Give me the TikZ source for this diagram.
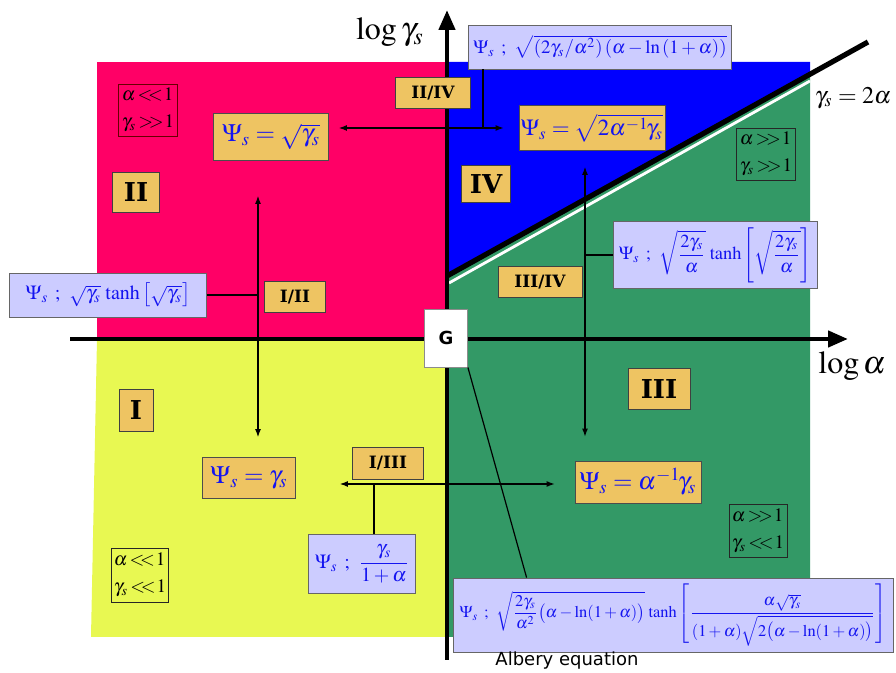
\documentclass[tikz,border=0pt]{standalone}
\usepackage{amsmath}
\usepackage{mathptmx}
\usepackage[no-math]{fontspec}
\newfontfamily\numfont{DejaVu Serif}
\newfontfamily\handfont{DejaVu Sans}
\usetikzlibrary{arrows.meta}
\definecolor{regred}{HTML}{FF0066}
\definecolor{regyellow}{HTML}{E8F852}
\definecolor{regblue}{HTML}{0000FF}
\definecolor{reggreen}{HTML}{339966}
\definecolor{boxorange}{HTML}{EEC462}
\definecolor{boxlav}{HTML}{CCCCFF}
\definecolor{formblue}{HTML}{1414F0}
\newcommand{\mll}{\mskip2mu{<\!\!<}\mskip1mu}
\newcommand{\mgg}{\mskip2mu{>\!\!>}\mskip1mu}
\begin{document}
\begin{tikzpicture}[x=0.5pt,y=-0.5pt,
  numbox/.style={draw=black!75,fill=boxorange,font=\numfont\bfseries,inner sep=1pt},
  formbox/.style={draw=black!70,fill=boxorange,text=formblue,inner sep=0.5pt,font=\fontsize{12.5}{14}\selectfont},
  lavbox/.style={draw=black!60,fill=boxlav,text=formblue,inner sep=0.5pt,font=\fontsize{10}{12}\selectfont},
  condbox/.style={draw=black!85,align=left,inner sep=1pt,font=\fontsize{9.5}{13.5}\selectfont},
  link/.style={line width=0.6pt},
  dbl/.style={link,{Latex[length=4pt,width=3pt]}-{Latex[length=4pt,width=3pt]}},
  axis/.style={line width=2.2pt,-{Triangle[length=10pt,width=8pt]}}]
  \useasboundingbox (0,0) rectangle (896,673);
  % regions
  \fill[regred] (97,62) rectangle (447,339);
  \fill[regyellow] (97,339) -- (447,339) -- (447,637) -- (91,637) -- cycle;
  \fill[regblue] (447,62) -- (810,62) -- (810,74) -- (447,277) -- cycle;
  \fill[reggreen] (447,277) -- (810,74) -- (810,637) -- (447,637) -- cycle;
  % boundary gamma_s = 2 alpha
  \draw[white,line width=1.4pt] (449,283) -- (810,81);
  \draw[line width=2.6pt] (447,276) -- (868,42);
  % axes
  \draw[axis] (70,339) -- (848,339);
  \draw[axis] (447,660) -- (447,10);
  \node (ylab) at (390,32) {\fontsize{16}{18}\selectfont$\log\gamma_s$};
  \node (xlab) at (852,366) {\fontsize{16}{18}\selectfont$\log\alpha$};
  \node (bnd) at (853,98) {\fontsize{12}{14}\selectfont$\gamma_s=2\alpha$};
  \node[draw=black!45,fill=white,minimum width=21.5pt,minimum height=29pt,font=\handfont\bfseries\fontsize{9}{10}\selectfont] (G) at (446,338) {G};
  % regimes
  \node[numbox,minimum width=23.5pt,minimum height=20pt,font=\numfont\bfseries\fontsize{13}{14}\selectfont] (II) at (136,192) {II};
  \node[numbox,minimum width=17pt,minimum height=21pt,font=\numfont\bfseries\fontsize{13}{14}\selectfont] (I) at (136,410) {I};
  \node[numbox,minimum width=24.5pt,minimum height=18.5pt,font=\numfont\bfseries\fontsize{13}{14}\selectfont] (IV) at (486,184) {IV};
  \node[numbox,minimum width=31pt,minimum height=20.5pt,font=\numfont\bfseries\fontsize{13}{14}\selectfont] (III) at (659,389) {III};
  \node[numbox,minimum width=37.5pt,minimum height=15.5pt,font=\numfont\bfseries\fontsize{8.5}{10}\selectfont] (IIIV) at (433,93) {II/IV};
  \node[numbox,minimum width=30.5pt,minimum height=15.5pt,font=\numfont\bfseries\fontsize{8.5}{10}\selectfont] (III2) at (295,297) {I/II};
  \node[numbox,minimum width=42pt,minimum height=15.5pt,font=\numfont\bfseries\fontsize{8.5}{10}\selectfont] (IIIIV) at (540,282) {III/IV};
  \node[numbox,minimum width=35.5pt,minimum height=16pt,font=\numfont\bfseries\fontsize{8.5}{10}\selectfont] (IIII) at (388,463) {I/III};
  % conditions
  \node[condbox,draw=black!60!red,minimum width=29.5pt,minimum height=26pt] (c2) at (148,110) {$\alpha\mll1$\\$\gamma_s\mgg1$};
  \node[condbox,minimum width=29.5pt,minimum height=26pt] (c4) at (766,154) {$\alpha\mgg1$\\$\gamma_s\mgg1$};
  \node[condbox,minimum width=29pt,minimum height=26.5pt] (c3) at (758,531) {$\alpha\mgg1$\\$\gamma_s\mll1$};
  \node[condbox,minimum width=28.5pt,minimum height=27pt] (c1) at (140,575) {$\alpha\mll1$\\$\gamma_s\mll1$};
  % limiting formulas
  \node[formbox,minimum width=57.5pt,minimum height=23.5pt] (F2) at (271,137) {$\Psi_s=\sqrt{\gamma_s}$};
  \node[formbox,minimum width=73pt,minimum height=22.5pt,font=\fontsize{11.5}{13}\selectfont] (F4) at (592,128) {$\Psi_s=\sqrt{2\alpha^{-1}\!\gamma_s}$};
  \node[formbox,minimum width=46.5pt,minimum height=20.5pt] (F1) at (249,478) {$\Psi_s=\gamma_s$};
  \node[formbox,minimum width=63pt,minimum height=21pt] (F3) at (638,482) {$\Psi_s=\alpha^{-1}\!\gamma_s$};
  % transition formulas
  \node[lavbox,minimum width=131.5pt,minimum height=22pt,font=\fontsize{9.4}{11}\selectfont] (LT) at (600,47) {$\Psi_s\ ;\ \sqrt{\left(2\gamma_s/\alpha^2\right)\left(\alpha-\ln\left(1+\alpha\right)\right)}$};
  \node[lavbox,minimum width=98.5pt,minimum height=22pt] (LL) at (108,295) {$\Psi_s\ ;\ \sqrt{\gamma_s}\,\tanh\left[\sqrt{\gamma_s}\right]$};
  \node[lavbox,minimum width=102pt,minimum height=33.5pt,font=\fontsize{9.2}{11}\selectfont] (LR) at (715,255) {$\Psi_s\ ;\ \sqrt{\dfrac{2\gamma_s}{\alpha}}\,\tanh\left[\sqrt{\dfrac{2\gamma_s}{\alpha}}\right]$};
  \node[lavbox,minimum width=53.5pt,minimum height=29.5pt] (LM) at (362,564) {$\Psi_s\ ;\ \dfrac{\gamma_s}{1+\alpha}$};
  \node[lavbox,minimum width=220pt,minimum height=37pt,font=\fontsize{8.2}{10}\selectfont] (LA) at (673,615) {$\Psi_s\ ;\ \sqrt{\dfrac{2\gamma_s}{\alpha^2}\bigl(\alpha-\ln(1+\alpha)\bigr)}\,\tanh\left[\dfrac{\alpha\sqrt{\gamma_s}}{(1+\alpha)\sqrt{2\bigl(\alpha-\ln(1+\alpha)\bigr)}}\right]$};
  \node[font=\handfont\fontsize{9}{10}\selectfont] (alb) at (567,661) {Albery equation};
  % transitions
  \coordinate (axL) at (258,0);
  \coordinate (axR) at (585,0);
  \coordinate (jTop) at (483,128);
  \coordinate (jLow) at (374,484);
  \draw[dbl,shorten <=5pt,shorten >=7.5pt] (F2.east |- jTop) -- (F4.west |- jTop);
  \draw[link] (jTop |- LT.south) -- (jTop);
  \draw[dbl,shorten <=17.5pt,shorten >=10pt] (axL |- F2.south) -- (axL |- F1.north);
  \draw[link] (LL.east) -- (LL.east -| axL);
  \draw[dbl,shorten <=8pt,shorten >=12pt] (axR |- F4.south) -- (axR |- F3.north);
  \draw[link] (LR.west) -- (LR.west -| axR);
  \draw[dbl,shorten <=22pt,shorten >=10pt] (F1.east |- jLow) -- (F3.west |- jLow);
  \draw[link] (jLow |- LM.north) -- (jLow);
  \draw[link] (G.south east) -- ([xshift=37pt]LA.north west);
\end{tikzpicture}
\end{document}
